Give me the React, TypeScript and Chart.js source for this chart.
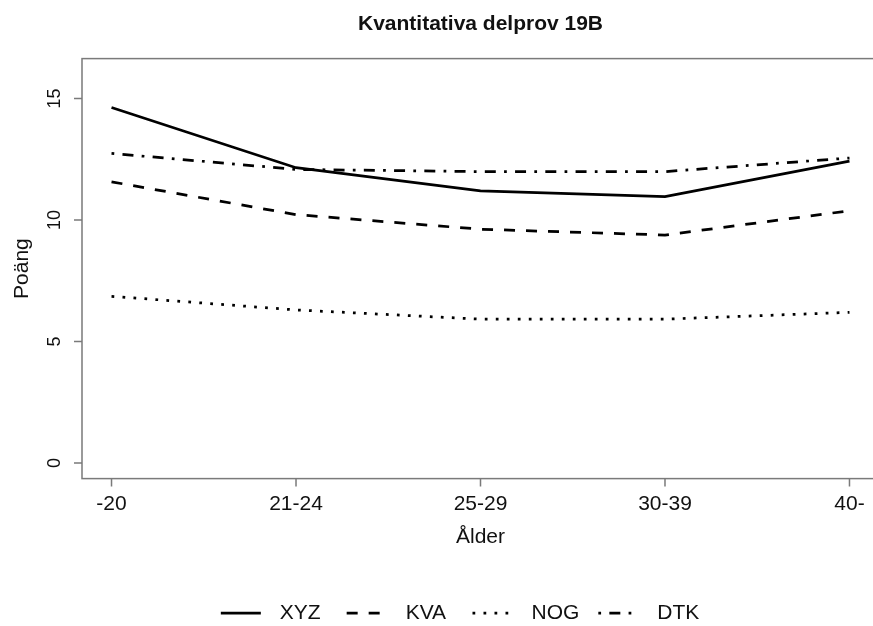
import React, { useEffect, useRef } from "react";
import { Chart, registerables } from "chart.js";

Chart.register(...registerables);

// ---- data ----
const categories = ["-20", "21-24", "25-29", "30-39", "40-"];
const seriesNames = ["XYZ", "KVA", "NOG", "DTK"];
const xyzValues = [14.63, 12.15, 11.2, 10.96, 12.42];
const kvaValues = [11.57, 10.22, 9.62, 9.38, 10.38];
const nogValues = [6.86, 6.3, 5.92, 5.92, 6.2];
const dtkValues = [12.74, 12.08, 11.99, 11.99, 12.55];
const yTicks = [0, 5, 10, 15];
const chartTitle = "Kvantitativa delprov 19B";
const xTitle = "Ålder";
const yTitle = "Poäng";

// ---- layout / style ----
const W = 961;
const H = 626;
const FONT = '"Liberation Sans", Arial, sans-serif';
const LW = 2.75;
const dashes: number[][] = [[], [11, 11], [2.75, 8.25], [2.75, 8.25, 11, 8.25]];

const decorPlugin = {
  id: "decor",
  afterDraw(chart: any) {
    const { ctx, chartArea: ca, scales } = chart;
    const xs = scales.x;
    const ys = scales.y;
    ctx.save();
    // box
    ctx.strokeStyle = "#7a7a7a";
    ctx.lineWidth = 1.5;
    ctx.setLineDash([]);
    ctx.strokeRect(ca.left, ca.top, ca.right - ca.left, ca.bottom - ca.top);
    // ticks
    ctx.beginPath();
    yTicks.forEach((v) => {
      const py = ys.getPixelForValue(v);
      ctx.moveTo(ca.left, py);
      ctx.lineTo(ca.left - 8, py);
    });
    categories.forEach((_c, i) => {
      const px = xs.getPixelForValue(i);
      ctx.moveTo(px, ca.bottom);
      ctx.lineTo(px, ca.bottom + 8);
    });
    ctx.stroke();

    ctx.fillStyle = "#111";
    ctx.textAlign = "center";
    ctx.textBaseline = "middle";
    // title
    ctx.font = `bold 21px ${FONT}`;
    ctx.fillText(chartTitle, (ca.left + ca.right) / 2, 24);
    // y tick labels (rotated)
    ctx.font = `18px ${FONT}`;
    yTicks.forEach((v) => {
      ctx.save();
      ctx.translate(55, ys.getPixelForValue(v));
      ctx.rotate(-Math.PI / 2);
      ctx.fillText(String(v), 0, 0);
      ctx.restore();
    });
    // x tick labels
    ctx.font = `21px ${FONT}`;
    categories.forEach((c, i) => {
      ctx.fillText(c, xs.getPixelForValue(i), 504);
    });
    // axis titles
    ctx.fillText(xTitle, (ca.left + ca.right) / 2, 537);
    ctx.save();
    ctx.translate(22, (ca.top + ca.bottom) / 2);
    ctx.rotate(-Math.PI / 2);
    ctx.fillText(yTitle, 0, 0);
    ctx.restore();

    // legend (equal pitch per item)
    const ds = chart.data.datasets;
    const lineLen = 40;
    const gapText = 19;
    const gapItem = 19;
    const widths = ds.map((d: any) => ctx.measureText(d.label).width);
    const maxW = Math.max(...widths);
    const pitch = lineLen + gapText + maxW + gapItem;
    const total = ds.length * pitch - gapItem;
    let x = 463 - total / 2;
    const ly = 613;
    ds.forEach((d: any) => {
      ctx.save();
      ctx.strokeStyle = d.borderColor;
      ctx.lineWidth = d.borderWidth;
      ctx.lineCap = "butt";
      ctx.setLineDash(d.borderDash || []);
      ctx.beginPath();
      ctx.moveTo(x, ly);
      ctx.lineTo(x + lineLen, ly);
      ctx.stroke();
      ctx.restore();
      ctx.textAlign = "left";
      ctx.fillText(d.label, x + lineLen + gapText, ly);
      x += pitch;
    });
    ctx.restore();
  },
};

export default function App() {
  const ref = useRef<HTMLCanvasElement | null>(null);
  useEffect(() => {
    if (!ref.current) return;
    const seriesValues = [xyzValues, kvaValues, nogValues, dtkValues];
    const chart = new Chart(ref.current, {
      type: "line",
      data: {
        datasets: seriesValues.map((vals, k) => ({
          label: seriesNames[k],
          data: vals.map((v, i) => ({ x: i, y: v })),
          borderColor: "#000",
          backgroundColor: "#000",
          borderWidth: LW,
          borderDash: dashes[k],
          borderCapStyle: "butt",
          pointRadius: 0,
          fill: false,
          tension: 0,
        })),
      },
      options: {
        animation: false,
        responsive: false,
        devicePixelRatio: 1,
        layout: { padding: { left: 0, right: 82, top: 58.6, bottom: 0 } },
        plugins: {
          legend: { display: false },
          tooltip: { enabled: false },
          title: { display: false },
        },
        scales: {
          x: {
            type: "linear",
            min: -0.16,
            max: 4.16,
            grid: { display: false },
            border: { display: false },
            ticks: { display: false },
            afterBuildTicks: (s: any) => {
              s.ticks = categories.map((_c, i) => ({ value: i }));
            },
            afterFit: (s: any) => {
              s.height = 147.4;
            },
          },
          y: {
            type: "linear",
            min: -0.64,
            max: 16.64,
            grid: { display: false },
            border: { display: false },
            ticks: { display: false },
            afterBuildTicks: (s: any) => {
              s.ticks = yTicks.map((v) => ({ value: v }));
            },
            afterFit: (s: any) => {
              s.width = 82;
            },
          },
        },
      },
      plugins: [decorPlugin],
    } as any);
    return () => chart.destroy();
  }, []);
  return (
    <div
      style={{
        position: "fixed",
        left: 0,
        top: 0,
        width: 873,
        height: 626,
        overflow: "hidden",
        background: "#fff",
      }}
    >
      <canvas ref={ref} width={W} height={H} style={{ display: "block", width: W, height: H }} />
    </div>
  );
}
